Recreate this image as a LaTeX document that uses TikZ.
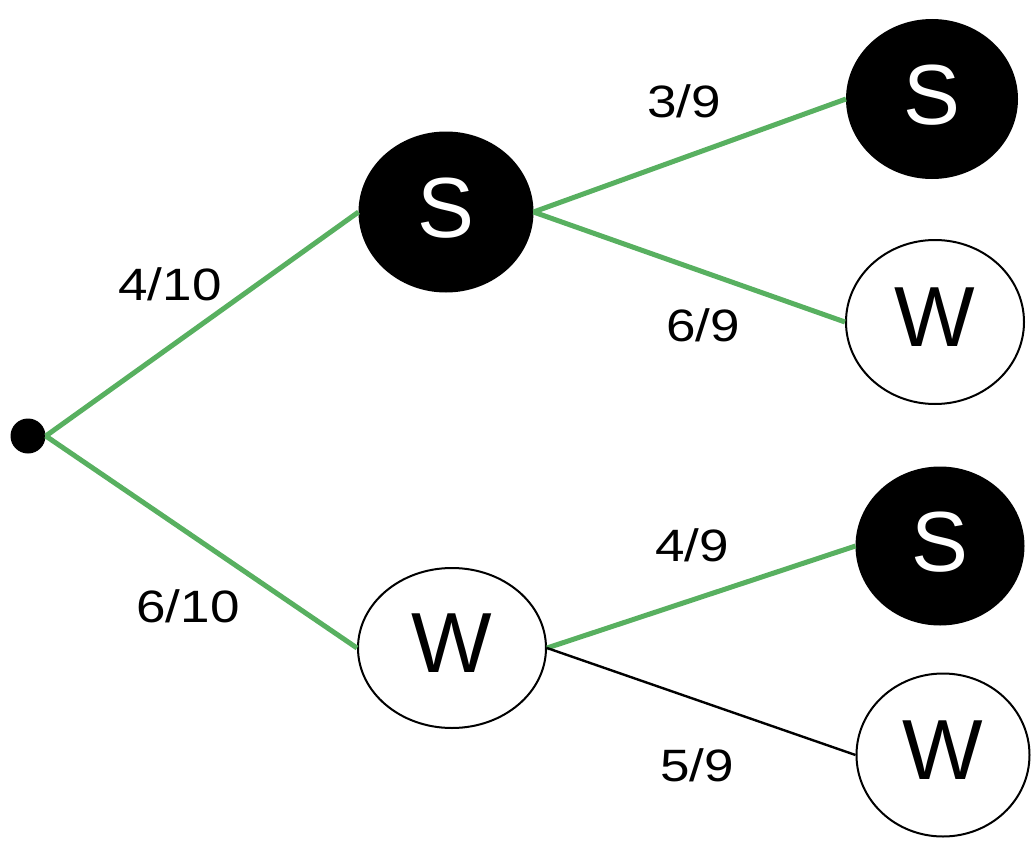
\documentclass[tikz,border=0pt]{standalone}
\usepackage{fontspec}
\setmainfont{Liberation Sans}
\newfontfamily\lblfont[FakeStretch=1.17]{Liberation Sans}
\usetikzlibrary{shapes.geometric}
\definecolor{grn}{RGB}{88,176,96}
\newcommand{\ltr}[1]{\raisebox{7pt}{#1}}
\begin{document}
\begin{tikzpicture}[x=0.75pt,y=-0.75pt,
  blk/.style={ellipse,draw=black,fill=black,line width=1.5pt,inner sep=0pt,text=white,font=\fontsize{64}{64}\selectfont},
  wht/.style={ellipse,draw=black,fill=white,line width=1.5pt,inner sep=0pt,text=black,font=\fontsize{64}{64}\selectfont},
  lbl/.style={font=\lblfont\fontsize{34}{34}\selectfont,inner sep=0pt},
  gline/.style={draw=grn,line width=3.75pt},
  kline/.style={draw=black,line width=1.8pt}]
\useasboundingbox (0,0) rectangle (1036,846);
\node[circle,fill=black,minimum size=26.25pt,inner sep=0pt] (r) at (28,436) {};
\node[blk,minimum width=129.75pt,minimum height=119.25pt] (s1) at (446,212) {\ltr{S}};
\node[wht,minimum width=141pt,minimum height=120pt] (w1) at (452,648) {\ltr{W}};
\node[blk,minimum width=127.5pt,minimum height=118.5pt] (ss) at (932,99) {\ltr{S}};
\node[wht,minimum width=133.5pt,minimum height=123pt] (sw) at (935,322) {\ltr{W}};
\node[blk,minimum width=125.25pt,minimum height=117.75pt] (ws) at (940,546) {\ltr{S}};
\node[wht,minimum width=129.75pt,minimum height=122.25pt] (ww) at (943,755) {\ltr{W}};
\draw[gline] (r.east) -- (s1.west);
\draw[gline] (r.east) -- (w1.west);
\draw[gline] (s1.east) -- (ss.west);
\draw[gline] (s1.east) -- (sw.west);
\draw[gline] (w1.east) -- (ws.west);
\draw[kline] (w1.east) -- (ww.west);
\node[lbl] (l1) at (170,284) {4/10};
\node[lbl] (l2) at (188,606) {6/10};
\node[lbl] (l3) at (684,101) {3/9};
\node[lbl] (l4) at (703,325) {6/9};
\node[lbl] (l5) at (692,545) {4/9};
\node[lbl] (l6) at (697,765) {5/9};
\end{tikzpicture}
\end{document}
